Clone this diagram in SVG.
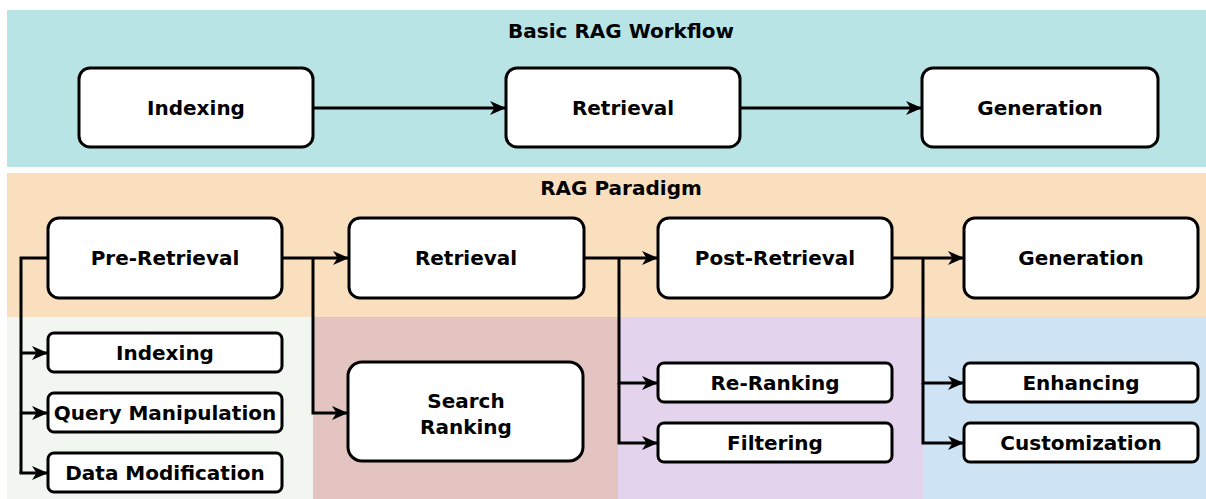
<svg xmlns="http://www.w3.org/2000/svg" width="1206" height="499" viewBox="0 0 1206 499">
<style>
.box{fill:#ffffff;stroke:#000000;stroke-width:3}
.lbl{font-family:"DejaVu Sans",Verdana,sans-serif;font-weight:bold;font-size:20px;fill:#000;text-anchor:middle;dominant-baseline:central}
.ttl{font-family:"DejaVu Sans",Verdana,sans-serif;font-weight:bold;font-size:20px;fill:#000;text-anchor:middle;dominant-baseline:central}
.con{fill:none;stroke:#000;stroke-width:3;marker-end:url(#arr)}
.ln{fill:none;stroke:#000;stroke-width:3}
</style>
<defs>
<marker id="arr" viewBox="0 0 16 14" refX="15" refY="7" markerWidth="16" markerHeight="14" markerUnits="userSpaceOnUse" orient="auto">
<path d="M0,0 L16,7 L0,14 L4.5,7 Z" fill="#000"/>
</marker>
</defs>
<g id="bands">
<rect x="7" y="10" width="1199" height="157" fill="#b8e4e6"/>
<rect x="7" y="173" width="1199" height="144" fill="#fadfbf"/>
<rect x="7" y="317" width="306" height="182" fill="#f1f6f0"/>
<rect x="313" y="317" width="305" height="182" fill="#e4c4c1"/>
<rect x="618" y="317" width="305" height="182" fill="#e4d3ed"/>
<rect x="923" y="317" width="283" height="182" fill="#cee4f4"/>
<text class="ttl" x="621" y="31">Basic RAG Workflow</text>
<text class="ttl" x="621" y="188">RAG Paradigm</text>
</g>
<g id="connectors">
<path class="con" d="M313,108 L505,108"/>
<path class="con" d="M740,108 L921,108"/>
<path class="con" d="M282,258 L348,258"/>
<path class="con" d="M313,258 L313,413 L347,413"/>
<path class="con" d="M584,258 L657,258"/>
<path class="con" d="M619,258 L619,383 L657,383"/>
<path class="con" d="M619,383 L619,443 L657,443"/>
<path class="con" d="M892,258 L963,258"/>
<path class="con" d="M923,258 L923,383 L963,383"/>
<path class="con" d="M923,383 L923,443 L963,443"/>
<path class="ln" d="M48,258 L21,258 L21,473"/>
<path class="con" d="M21,353 L47,353"/>
<path class="con" d="M21,413 L47,413"/>
<path class="con" d="M19.5,473 L47,473"/>
</g>
<g id="n-indexing-top"><rect class="box" x="79" y="68" width="234" height="79" rx="11"/><text class="lbl" x="196" y="108">Indexing</text></g>
<g id="n-retrieval-top"><rect class="box" x="506" y="68" width="234" height="79" rx="11"/><text class="lbl" x="623" y="108">Retrieval</text></g>
<g id="n-generation-top"><rect class="box" x="922" y="68" width="236" height="79" rx="11"/><text class="lbl" x="1040" y="108">Generation</text></g>
<g id="n-pre"><rect class="box" x="48" y="218" width="234" height="80" rx="11"/><text class="lbl" x="165" y="258">Pre-Retrieval</text></g>
<g id="n-retrieval"><rect class="box" x="349" y="218" width="235" height="80" rx="11"/><text class="lbl" x="466" y="258">Retrieval</text></g>
<g id="n-post"><rect class="box" x="658" y="218" width="234" height="80" rx="11"/><text class="lbl" x="775" y="258">Post-Retrieval</text></g>
<g id="n-generation"><rect class="box" x="964" y="218" width="234" height="80" rx="11"/><text class="lbl" x="1081" y="258">Generation</text></g>
<g id="n-indexing"><rect class="box" x="48" y="333" width="234" height="39" rx="6"/><text class="lbl" x="165" y="353">Indexing</text></g>
<g id="n-query"><rect class="box" x="48" y="393" width="234" height="39" rx="6"/><text class="lbl" x="165" y="413">Query Manipulation</text></g>
<g id="n-data"><rect class="box" x="48" y="453" width="234" height="39" rx="6"/><text class="lbl" x="165" y="473">Data Modification</text></g>
<g id="n-search"><rect class="box" x="348" y="362" width="235" height="99" rx="14"/><text class="lbl" x="466" y="401">Search</text><text class="lbl" x="466" y="427">Ranking</text></g>
<g id="n-rerank"><rect class="box" x="658" y="363" width="234" height="39" rx="6"/><text class="lbl" x="775" y="383">Re-Ranking</text></g>
<g id="n-filter"><rect class="box" x="658" y="423" width="234" height="39" rx="6"/><text class="lbl" x="775" y="443">Filtering</text></g>
<g id="n-enhance"><rect class="box" x="964" y="363" width="234" height="39" rx="6"/><text class="lbl" x="1081" y="383">Enhancing</text></g>
<g id="n-custom"><rect class="box" x="964" y="423" width="234" height="39" rx="6"/><text class="lbl" x="1081" y="443">Customization</text></g>
</svg>
